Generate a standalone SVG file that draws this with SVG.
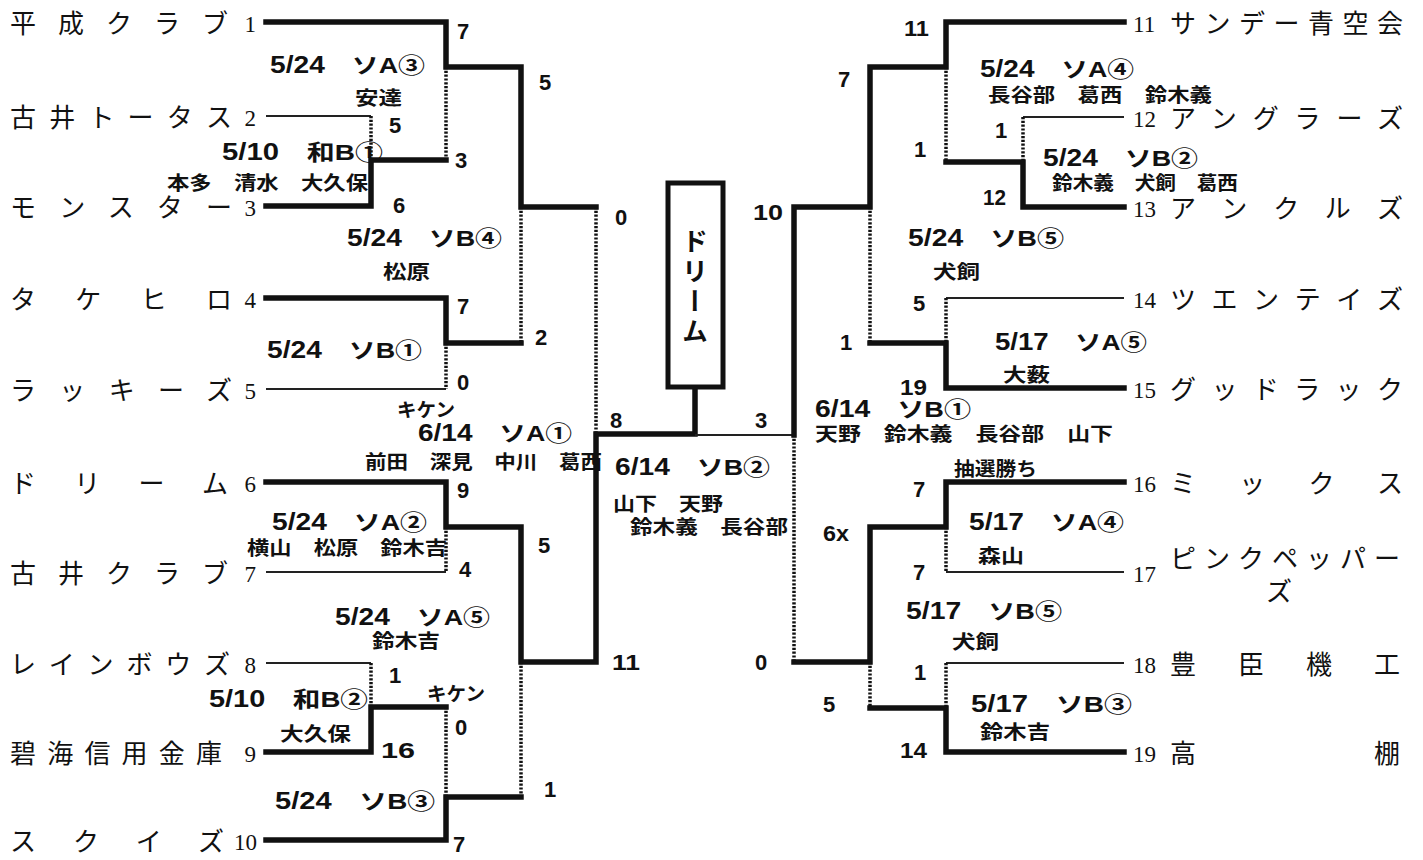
<svg xmlns="http://www.w3.org/2000/svg" width="1423" height="860" viewBox="0 0 1423 860">
<style>
.name{font-family:"Noto Sans CJK JP",sans-serif;font-size:26px;font-weight:400;fill:#111}
.num{font-family:"Liberation Serif","Noto Sans CJK JP",serif;font-size:23px;fill:#111}
.lab{font-family:"Liberation Sans","Noto Sans CJK JP",sans-serif;font-size:22px;font-weight:bold;fill:#111}
.lab .d{font-size:23px}
.ump{font-family:"Noto Sans CJK JP",sans-serif;font-size:19px;font-weight:bold;fill:#111}
.sc{font-family:"Liberation Sans","Noto Sans CJK JP",sans-serif;font-size:22px;font-weight:bold;fill:#111}
.thick{fill:none;stroke:#111;stroke-width:5.5;stroke-linejoin:miter;stroke-linecap:square}
.thin{fill:none;stroke:#222;stroke-width:2}
.dot{fill:none;stroke:#111;stroke-width:3.5;stroke-dasharray:2.2 1.6}
</style>
<rect width="1423" height="860" fill="#fff"/>
<g id="connectors">
<path class="thick" d="M266,22 H446 V67 H521 V207 H596"/>
<path class="thin" d="M266,116 H371"/>
<path class="dot" d="M371,116 V160"/>
<path class="thick" d="M266,206 H371 V160 H446"/>
<path class="dot" d="M446,67 V160"/>
<path class="thick" d="M266,298 H446 V343 H521"/>
<path class="thin" d="M266,389 H446"/>
<path class="dot" d="M446,343 V389"/>
<path class="dot" d="M521,207 V343"/>
<path class="dot" d="M596,207 V434"/>
<path class="thick" d="M266,482 H446 V527 H521 V662 H596 V434 H695 V387"/>
<path class="thin" d="M266,572 H446"/>
<path class="dot" d="M446,527 V572"/>
<path class="thin" d="M266,663 H371"/>
<path class="dot" d="M371,663 V707"/>
<path class="thick" d="M266,752 H371 V707 H446"/>
<path class="dot" d="M446,707 V797"/>
<path class="thick" d="M266,840 H446 V797 H521"/>
<path class="dot" d="M521,662 V797"/>
<path class="thin" d="M695,435 H794"/>
<path class="thick" d="M1124,22 H946 V67 H870 V207 H794 V435"/>
<path class="dot" d="M946,67 V162"/>
<path class="thin" d="M1124,117 H1023"/>
<path class="dot" d="M1023,117 V162"/>
<path class="thick" d="M1124,207 H1023 V162 H946"/>
<path class="dot" d="M870,207 V343"/>
<path class="thin" d="M1124,298 H946"/>
<path class="dot" d="M946,298 V343"/>
<path class="thick" d="M1124,388 H946 V343 H870"/>
<path class="thick" d="M1124,482 H946 V527 H870 V662 H794"/>
<path class="dot" d="M794,435 V662"/>
<path class="thin" d="M1124,572 H946"/>
<path class="dot" d="M946,527 V572"/>
<path class="dot" d="M870,662 V708"/>
<path class="thin" d="M1124,663 H946"/>
<path class="dot" d="M946,663 V708"/>
<path class="thick" d="M1124,752 H946 V708 H870"/>
</g>
<g id="champion">
<rect x="668" y="183" width="55" height="204" fill="#fff" stroke="#111" stroke-width="5"/>
<text x="695" y="288" style="writing-mode:vertical-rl;letter-spacing:4px" text-anchor="middle" font-family="Noto Sans CJK JP, sans-serif" font-size="26" font-weight="bold" fill="#111">ドリーム</text>
</g>
<g id="team-1"><text class="name" x="10" y="33" textLength="218" lengthAdjust="spacing">平成クラブ</text><text class="num" x="256" y="32" text-anchor="end">1</text></g>
<g id="team-2"><text class="name" x="10" y="127" textLength="222" lengthAdjust="spacing">古井トータス</text><text class="num" x="256" y="126" text-anchor="end">2</text></g>
<g id="team-3"><text class="name" x="10" y="217" textLength="222" lengthAdjust="spacing">モンスター</text><text class="num" x="256" y="216" text-anchor="end">3</text></g>
<g id="team-4"><text class="name" x="10" y="309" textLength="222" lengthAdjust="spacing">タケヒロ</text><text class="num" x="256" y="308" text-anchor="end">4</text></g>
<g id="team-5"><text class="name" x="10" y="400" textLength="222" lengthAdjust="spacing">ラッキーズ</text><text class="num" x="256" y="399" text-anchor="end">5</text></g>
<g id="team-6"><text class="name" x="10" y="493" textLength="218" lengthAdjust="spacing">ドリーム</text><text class="num" x="256" y="492" text-anchor="end">6</text></g>
<g id="team-7"><text class="name" x="10" y="583" textLength="218" lengthAdjust="spacing">古井クラブ</text><text class="num" x="256" y="582" text-anchor="end">7</text></g>
<g id="team-8"><text class="name" x="10" y="674" textLength="220" lengthAdjust="spacing">レインボウズ</text><text class="num" x="256" y="673" text-anchor="end">8</text></g>
<g id="team-9"><text class="name" x="10" y="763" textLength="212" lengthAdjust="spacing">碧海信用金庫</text><text class="num" x="256" y="762" text-anchor="end">9</text></g>
<g id="team-10"><text class="name" x="10" y="851" textLength="214" lengthAdjust="spacing">スクイズ</text><text class="num" x="257" y="850" text-anchor="end">10</text></g>
<g id="team-11"><text class="num" x="1133" y="32">11</text><text class="name" x="1170" y="33" textLength="233" lengthAdjust="spacing">サンデー青空会</text></g>
<g id="team-12"><text class="num" x="1133" y="127">12</text><text class="name" x="1170" y="128" textLength="233" lengthAdjust="spacing">アングラーズ</text></g>
<g id="team-13"><text class="num" x="1133" y="217">13</text><text class="name" x="1170" y="218" textLength="233" lengthAdjust="spacing">アンクルズ</text></g>
<g id="team-14"><text class="num" x="1133" y="308">14</text><text class="name" x="1170" y="309" textLength="233" lengthAdjust="spacing">ツエンテイズ</text></g>
<g id="team-15"><text class="num" x="1133" y="398">15</text><text class="name" x="1170" y="399" textLength="233" lengthAdjust="spacing">グッドラック</text></g>
<g id="team-16"><text class="num" x="1133" y="492">16</text><text class="name" x="1170" y="493" textLength="233" lengthAdjust="spacing">ミックス</text></g>
<g id="team-17"><text class="num" x="1133" y="582">17</text><text class="name" x="1170" y="568" textLength="230" lengthAdjust="spacing">ピンクペッパー</text><text class="name" x="1279" y="601" text-anchor="middle">ズ</text></g>
<g id="team-18"><text class="num" x="1133" y="673">18</text><text class="name" x="1170" y="674" textLength="230" lengthAdjust="spacing">豊臣機工</text></g>
<g id="team-19"><text class="num" x="1133" y="762">19</text><text class="name" x="1170" y="763" textLength="230" lengthAdjust="spacing">高棚</text></g>
<g id="match-labels">
<text class="lab" x="270" y="73" textLength="155" lengthAdjust="spacingAndGlyphs"><tspan class="d">5/24</tspan><tspan>　ソA③</tspan></text>
<text class="ump" x="355" y="105" textLength="47" lengthAdjust="spacingAndGlyphs">安達</text>
<text class="lab" x="222" y="160" textLength="161" lengthAdjust="spacingAndGlyphs"><tspan class="d">5/10</tspan><tspan>　和B①</tspan></text>
<text class="ump" x="167" y="190" textLength="201" lengthAdjust="spacingAndGlyphs">本多　清水　大久保</text>
<text class="lab" x="347" y="246" textLength="155" lengthAdjust="spacingAndGlyphs"><tspan class="d">5/24</tspan><tspan>　ソB④</tspan></text>
<text class="ump" x="383" y="279" textLength="47" lengthAdjust="spacingAndGlyphs">松原</text>
<text class="lab" x="267" y="358" textLength="155" lengthAdjust="spacingAndGlyphs"><tspan class="d">5/24</tspan><tspan>　ソB①</tspan></text>
<text class="ump" x="397" y="417" textLength="58" lengthAdjust="spacingAndGlyphs">キケン</text>
<text class="lab" x="418" y="441" textLength="154" lengthAdjust="spacingAndGlyphs"><tspan class="d">6/14</tspan><tspan>　ソA①</tspan></text>
<text class="ump" x="365" y="469" textLength="237" lengthAdjust="spacingAndGlyphs">前田　深見　中川　葛西</text>
<text class="lab" x="272" y="530" textLength="155" lengthAdjust="spacingAndGlyphs"><tspan class="d">5/24</tspan><tspan>　ソA②</tspan></text>
<text class="ump" x="247" y="555" textLength="200" lengthAdjust="spacingAndGlyphs">横山　松原　鈴木吉</text>
<text class="lab" x="335" y="625" textLength="155" lengthAdjust="spacingAndGlyphs"><tspan class="d">5/24</tspan><tspan>　ソA⑤</tspan></text>
<text class="ump" x="372" y="648" textLength="68" lengthAdjust="spacingAndGlyphs">鈴木吉</text>
<text class="lab" x="209" y="707" textLength="159" lengthAdjust="spacingAndGlyphs"><tspan class="d">5/10</tspan><tspan>　和B②</tspan></text>
<text class="ump" x="427" y="701" textLength="58" lengthAdjust="spacingAndGlyphs">キケン</text>
<text class="ump" x="280" y="741" textLength="71" lengthAdjust="spacingAndGlyphs">大久保</text>
<text class="lab" x="275" y="809" textLength="160" lengthAdjust="spacingAndGlyphs"><tspan class="d">5/24</tspan><tspan>　ソB③</tspan></text>
<text class="lab" x="615" y="475" textLength="155" lengthAdjust="spacingAndGlyphs"><tspan class="d">6/14</tspan><tspan>　ソB②</tspan></text>
<text class="ump" x="613" y="511" textLength="110" lengthAdjust="spacingAndGlyphs">山下　天野</text>
<text class="ump" x="630" y="534" textLength="158" lengthAdjust="spacingAndGlyphs">鈴木義　長谷部</text>
<text class="lab" x="980" y="77" textLength="154" lengthAdjust="spacingAndGlyphs"><tspan class="d">5/24</tspan><tspan>　ソA④</tspan></text>
<text class="ump" x="988" y="102" textLength="224" lengthAdjust="spacingAndGlyphs">長谷部　葛西　鈴木義</text>
<text class="lab" x="1043" y="166" textLength="155" lengthAdjust="spacingAndGlyphs"><tspan class="d">5/24</tspan><tspan>　ソB②</tspan></text>
<text class="ump" x="1052" y="190" textLength="186" lengthAdjust="spacingAndGlyphs">鈴木義　犬飼　葛西</text>
<text class="lab" x="908" y="246" textLength="156" lengthAdjust="spacingAndGlyphs"><tspan class="d">5/24</tspan><tspan>　ソB⑤</tspan></text>
<text class="ump" x="933" y="279" textLength="47" lengthAdjust="spacingAndGlyphs">犬飼</text>
<text class="lab" x="995" y="350" textLength="152" lengthAdjust="spacingAndGlyphs"><tspan class="d">5/17</tspan><tspan>　ソA⑤</tspan></text>
<text class="ump" x="1003" y="382" textLength="47" lengthAdjust="spacingAndGlyphs">大薮</text>
<text class="lab" x="815" y="417" textLength="156" lengthAdjust="spacingAndGlyphs"><tspan class="d">6/14</tspan><tspan>　ソB①</tspan></text>
<text class="ump" x="815" y="441" textLength="298" lengthAdjust="spacingAndGlyphs">天野　鈴木義　長谷部　山下</text>
<text class="ump" x="954" y="476" font-size="15" textLength="83" lengthAdjust="spacingAndGlyphs">抽選勝ち</text>
<text class="lab" x="969" y="530" textLength="155" lengthAdjust="spacingAndGlyphs"><tspan class="d">5/17</tspan><tspan>　ソA④</tspan></text>
<text class="ump" x="978" y="563" textLength="46" lengthAdjust="spacingAndGlyphs">森山</text>
<text class="lab" x="906" y="619" textLength="156" lengthAdjust="spacingAndGlyphs"><tspan class="d">5/17</tspan><tspan>　ソB⑤</tspan></text>
<text class="ump" x="952" y="649" textLength="47" lengthAdjust="spacingAndGlyphs">犬飼</text>
<text class="lab" x="971" y="712" textLength="161" lengthAdjust="spacingAndGlyphs"><tspan class="d">5/17</tspan><tspan>　ソB③</tspan></text>
<text class="ump" x="980" y="739" textLength="70" lengthAdjust="spacingAndGlyphs">鈴木吉</text>
</g>
<g id="scores">
<text class="sc" x="457" y="39">7</text>
<text class="sc" x="389" y="133">5</text>
<text class="sc" x="455" y="168">3</text>
<text class="sc" x="393" y="213">6</text>
<text class="sc" x="539" y="90">5</text>
<text class="sc" x="615" y="225">0</text>
<text class="sc" x="457" y="314">7</text>
<text class="sc" x="535" y="345">2</text>
<text class="sc" x="457" y="390">0</text>
<text class="sc" x="610" y="428">8</text>
<text class="sc" x="457" y="498">9</text>
<text class="sc" x="459" y="577">4</text>
<text class="sc" x="538" y="553">5</text>
<text class="sc" x="612" y="670" textLength="28" lengthAdjust="spacingAndGlyphs">11</text>
<text class="sc" x="389" y="683">1</text>
<text class="sc" x="455" y="735">0</text>
<text class="sc" x="381" y="758" textLength="34" lengthAdjust="spacingAndGlyphs">16</text>
<text class="sc" x="544" y="797">1</text>
<text class="sc" x="453" y="852">7</text>
<text class="sc" x="755" y="428">3</text>
<text class="sc" x="753" y="220" textLength="30" lengthAdjust="spacingAndGlyphs">10</text>
<text class="sc" x="904" y="36" textLength="25" lengthAdjust="spacingAndGlyphs">11</text>
<text class="sc" x="838" y="87">7</text>
<text class="sc" x="995" y="138">1</text>
<text class="sc" x="914" y="157">1</text>
<text class="sc" x="983" y="205" textLength="23" lengthAdjust="spacingAndGlyphs">12</text>
<text class="sc" x="913" y="311">5</text>
<text class="sc" x="840" y="350">1</text>
<text class="sc" x="900" y="395" textLength="27" lengthAdjust="spacingAndGlyphs">19</text>
<text class="sc" x="913" y="497">7</text>
<text class="sc" x="823" y="541" textLength="26" lengthAdjust="spacingAndGlyphs">6x</text>
<text class="sc" x="913" y="580">7</text>
<text class="sc" x="755" y="670">0</text>
<text class="sc" x="914" y="680">1</text>
<text class="sc" x="823" y="712">5</text>
<text class="sc" x="900" y="758" textLength="27" lengthAdjust="spacingAndGlyphs">14</text>
</g>
</svg>
